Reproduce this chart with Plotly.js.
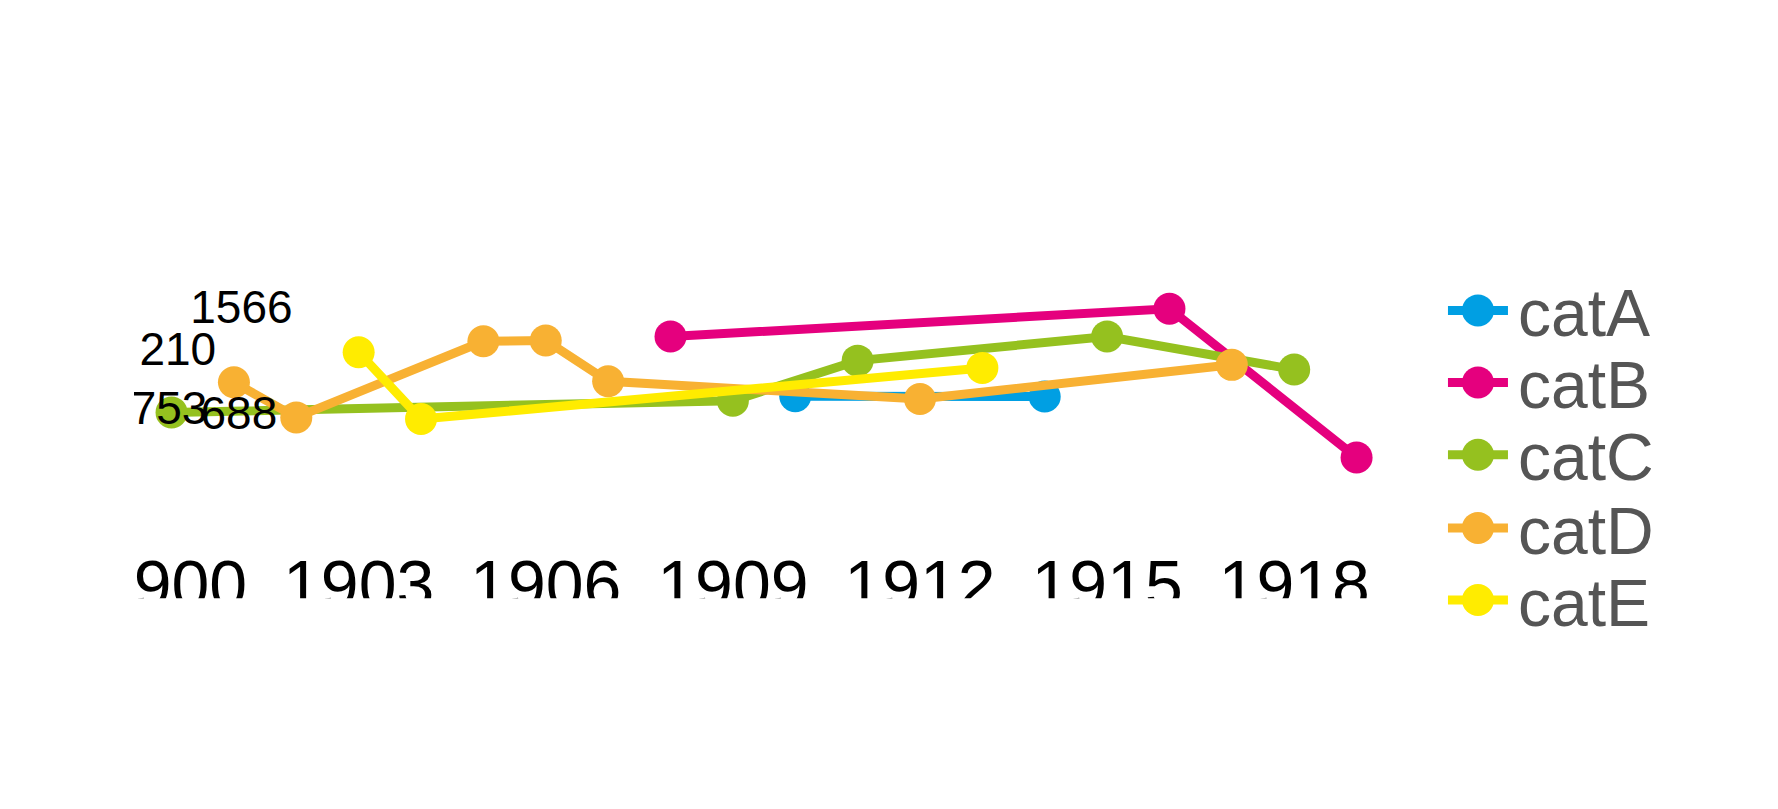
<!DOCTYPE html>
<html>
<head>
<meta charset="utf-8">
<script src="https://cdn.plot.ly/plotly-3.0.1.min.js"></script>
<style>
html, body { margin: 0; padding: 0; background: #ffffff; overflow: hidden; width: 1778px; height: 809px; }
#wrap { position: absolute; left: 0; top: 0; width: 889px; height: 404.5px; transform: scale(2); transform-origin: 0 0; }
#chart { width: 889px; height: 404.5px; }
</style>
</head>
<body>
<div id="wrap"><div id="chart"></div></div>
<script>
// ---- data ----
const seriesNames = ['catA', 'catB', 'catC', 'catD', 'catE'];

const catA_years = [1910, 1914];
const catA_values = [880, 878];

const catB_years = [1908, 1916, 1919];
const catB_values = [1348, 1566, 399];

const catC_years = [1900, 1909, 1911, 1915, 1918];
const catC_values = [753, 845, 1159, 1348, 1089];

const catD_years = [1901, 1902, 1905, 1906, 1907, 1912, 1917];
const catD_values = [989, 714, 1311, 1317, 997, 858, 1126];

const catE_years = [1903, 1904, 1913];
const catE_values = [1225, 701, 1102];

const labelYears = [1901.12, 1900.10, 1899.96, 1901.08];
const labelValues = [1544, 1214, 751, 711];
const labelTexts = ['1566', '210', '753', '688'];

const tickYears = [1900, 1903, 1906, 1909, 1912, 1915, 1918];
const tickLabels = ['1900', '1903', '1906', '1909', '1912', '1915', '1918'];

// ---- styles / geometry ----
const colors = ['#009FE3', '#E5007E', '#95C11F', '#F8B133', '#FFEC00'];
const FONT = 'Liberation Sans, Arial, Helvetica, sans-serif';
const W = 889, H = 404.5, ML = 67, MR = 191.5, MT = 50, MB = 136;
const plotW = W - ML - MR, plotH = H - MT - MB, plotBottom = H - MB;
const px2paperX = px => (px - ML) / plotW;
const py2paperY = py => (plotBottom - py) / plotH;

const years = [catA_years, catB_years, catC_years, catD_years, catE_years];
const values = [catA_values, catB_values, catC_values, catD_values, catE_values];

const legendIds = ['legend', 'legend2', 'legend3', 'legend4', 'legend5'];
const legendCenters = [155, 191, 227, 263.5, 299.5];

const traces = seriesNames.map((name, i) => ({
  type: 'scatter',
  mode: 'lines+markers',
  name: name,
  x: years[i],
  y: values[i],
  line: { color: colors[i], width: 4.5 },
  marker: { color: colors[i], size: 16 },
  legend: legendIds[i],
  hoverinfo: 'x+y+name'
}));

traces.push({
  type: 'scatter',
  mode: 'text',
  x: labelYears,
  y: labelValues,
  text: labelTexts,
  textposition: 'middle center',
  textfont: { family: FONT, size: 23, color: '#000000' },
  showlegend: false,
  hoverinfo: 'skip',
  cliponaxis: true
});

const layout = {
  width: W,
  height: H,
  margin: { l: ML, r: MR, t: MT, b: MB, pad: 0 },
  paper_bgcolor: '#ffffff',
  plot_bgcolor: '#ffffff',
  font: { family: FONT, color: '#000000' },
  showlegend: true,
  xaxis: {
    range: [1899.398, 1919.6],
    tickmode: 'array',
    tickvals: tickYears,
    ticktext: tickLabels,
    tickfont: { family: FONT, size: 34, color: '#000000' },
    showgrid: false,
    zeroline: false,
    showline: false,
    ticks: ''
  },
  yaxis: {
    range: [-232, 3203],
    showgrid: false,
    zeroline: false,
    showline: false,
    showticklabels: false,
    ticks: ''
  },
  shapes: [
    { type: 'rect', xref: 'paper', yref: 'paper', layer: 'above',
      x0: px2paperX(-5), x1: px2paperX(W + 5), y0: py2paperY(298.5), y1: py2paperY(H + 5),
      fillcolor: '#ffffff', line: { width: 0 } },
    { type: 'rect', xref: 'paper', yref: 'paper', layer: 'above',
      x0: px2paperX(-5), x1: px2paperX(ML), y0: py2paperY(plotBottom), y1: py2paperY(H + 5),
      fillcolor: '#ffffff', line: { width: 0 } }
  ]
};

legendIds.forEach((id, i) => {
  layout[id] = {
    x: px2paperX(719.5),
    xanchor: 'left',
    y: py2paperY(legendCenters[i]),
    yanchor: 'middle',
    bgcolor: 'rgba(0,0,0,0)',
    borderwidth: 0,
    font: { family: FONT, size: 33, color: '#555555' }
  };
});

Plotly.newPlot('chart', traces, layout, { displayModeBar: false });
</script>
</body>
</html>
